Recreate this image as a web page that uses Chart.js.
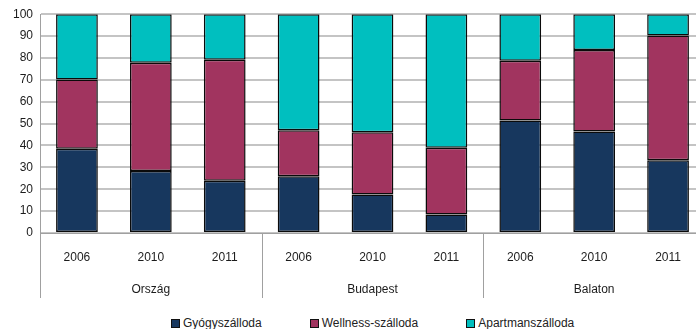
<!DOCTYPE html>
<html lang="hu">
<head>
<meta charset="utf-8">
<script src="https://cdn.jsdelivr.net/npm/chart.js@4/dist/chart.umd.min.js"></script>
<style>
  html, body { margin: 0; padding: 0; background: #fff; overflow: hidden; }
  #wrap { position: relative; width: 720px; height: 329px; }
  #legend {
    position: absolute; top: 316px; left: 171px;
    display: flex; gap: 48px;
    font: 12px "Liberation Sans", Arial, sans-serif; color: #222;
  }
  #legend .item { display: flex; align-items: center; gap: 3px; line-height: 14px; }
  #legend .sw { width: 7px; height: 7px; border: 1px solid #111; }
</style>
</head>
<body>
<div id="wrap">
  <canvas id="hotelChart" width="720" height="305"></canvas>
  <div id="legend"></div>
</div>
<script>
// ── Data: share of hotel types (%), by region and year
const regions = ['Ország', 'Budapest', 'Balaton'];
const years   = ['2006', '2010', '2011'];

const gyogy    = [38.5, 28.3, 23.9,  25.9, 17.6,  8.4,  51.4, 46.4, 33.2];
const wellness = [31.7, 49.5, 55.3,  21.1, 28.5, 30.6,  27.3, 37.2, 57.1];
const apartman = [29.8, 22.2, 20.8,  53.0, 53.9, 61.0,  21.3, 16.4,  9.7];

const yTicks = [0, 10, 20, 30, 40, 50, 60, 70, 80, 90, 100];

const COLORS = {
  gyogy:    '#17375e',
  wellness: '#a1345f',
  apartman: '#00bfbf',
  grid:     '#c4c4c4',
  text:     '#1c1c1c',
};
const FONT = { family: '"Liberation Sans", Arial, sans-serif', size: 12 };

// Two-line tick labels: year on top, region name under the middle bar
const labels = [];
regions.forEach(r => {
  years.forEach((y, i) => labels.push([y, i === 1 ? r : '']));
});

// ── Vertical group separators running through the label rows
const groupLines = {
  id: 'groupLines',
  afterDraw(chart) {
    const x = chart.scales.x;
    const { ctx, chartArea } = chart;
    const step = x.getPixelForValue(1) - x.getPixelForValue(0);
    ctx.save();
    ctx.strokeStyle = '#a0a0a0';
    ctx.lineWidth = 1;
    for (let g = 0; g <= regions.length; g++) {
      const px = Math.round(x.getPixelForValue(g * years.length) - step / 2) + 0.5;
      ctx.beginPath();
      ctx.moveTo(px, chartArea.bottom);
      ctx.lineTo(px, chartArea.bottom + 65);
      ctx.stroke();
    }
    ctx.restore();
  },
};

const datasets = [
  { label: 'Gyógyszálloda',     data: gyogy,    backgroundColor: COLORS.gyogy },
  { label: 'Wellness-szálloda', data: wellness, backgroundColor: COLORS.wellness },
  { label: 'Apartmanszálloda',  data: apartman, backgroundColor: COLORS.apartman },
].map(d => Object.assign(d, {
  borderColor: '#0a0a0a',
  borderWidth: 1.5,
  borderSkipped: false,
  barPercentage: 0.565,
  categoryPercentage: 1,
}));

new Chart(document.getElementById('hotelChart'), {
  type: 'bar',
  data: { labels, datasets },
  plugins: [groupLines],
  options: {
    responsive: false,
    animation: false,
    layout: { padding: { top: 13, right: 15, left: 0, bottom: 0 } },
    plugins: {
      legend: { display: false },
      tooltip: { enabled: false },
    },
    scales: {
      x: {
        stacked: true,
        grid: { display: false },
        border: { display: true, color: '#a0a0a0', width: 1 },
        ticks: {
          color: COLORS.text,
          font: Object.assign({ lineHeight: 2.7 }, FONT),
          padding: 0,
          maxRotation: 0,
          autoSkip: false,
        },
        afterFit: s => { s.height = 72; },
      },
      y: {
        stacked: true,
        min: 0,
        max: 100,
        afterBuildTicks: s => { s.ticks = yTicks.map(v => ({ value: v })); },
        grid: { color: COLORS.grid, lineWidth: 2, drawTicks: false },
        border: { display: true, color: '#a0a0a0', width: 1 },
        ticks: { color: COLORS.text, font: FONT, padding: 7 },
        afterFit: s => { s.width = 40; },
      },
    },
  },
});

// ── HTML legend under the chart
const legendBox = document.getElementById('legend');
datasets.forEach(d => {
  const item = document.createElement('div');
  item.className = 'item';
  item.innerHTML = `<span class="sw" style="background:${d.backgroundColor}"></span><span>${d.label}</span>`;
  legendBox.appendChild(item);
});
</script>
</body>
</html>
